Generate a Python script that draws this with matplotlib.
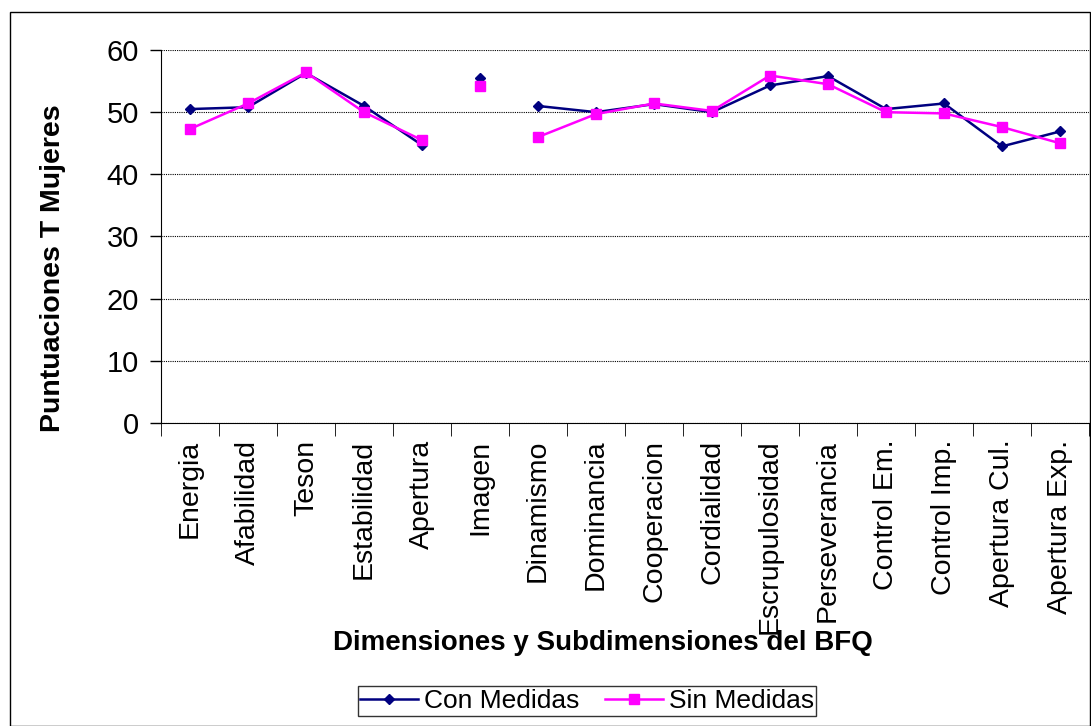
import numpy as np
import matplotlib.pyplot as plt
from matplotlib.patches import Rectangle

plt.rcParams['font.family'] = ['Liberation Sans', 'DejaVu Sans']

categorias = ["Energia", "Afabilidad", "Teson", "Estabilidad", "Apertura", "Imagen",
              "Dinamismo", "Dominancia", "Cooperacion", "Cordialidad", "Escrupulosidad",
              "Perseverancia", "Control Em.", "Control Imp.", "Apertura Cul.", "Apertura Exp."]
con_medidas = [50.5, 50.8, 56.3, 51.0, 44.7, 55.5, 51.0, 50.0, 51.3, 50.0, 54.3, 55.8,
               50.5, 51.4, 44.5, 46.9]
sin_medidas = [47.3, 51.4, 56.4, 50.0, 45.5, 54.2, 46.0, 49.7, 51.4, 50.2, 55.9, 54.5,
               50.0, 49.8, 47.6, 45.0]

fig = plt.figure(figsize=(10.91, 7.26), dpi=100)
ax = fig.add_axes([0.1476, 0.4174, 0.8506, 0.5137])

x = np.arange(len(categorias))
# Imagen (index 5) no se une con las demas
grupos = [slice(0, 5), slice(5, 6), slice(6, 16)]
for vals, col, mk, ms, lab in [(con_medidas, '#000080', 'D', 5, 'Con Medidas'),
                               (sin_medidas, '#FF00FF', 's', 7, 'Sin Medidas')]:
    v = np.array(vals)
    for i, g in enumerate(grupos):
        ax.plot(x[g], v[g], color=col, marker=mk, markersize=ms, lw=1.8,
                label=lab if i == 0 else None)

ax.set_xlim(-0.5, len(categorias) - 0.5)
ax.set_ylim(0, 60)
ax.set_yticks(range(0, 61, 10))
ax.tick_params(axis='y', labelsize=21, direction='out', length=8, width=1, pad=8)
ax.set_xticks(x)
ax.set_xticklabels(categorias, rotation=90, fontsize=20.5)
ax.tick_params(axis='x', which='major', length=0, pad=12)
ax.set_xticks(np.arange(-0.5, len(categorias), 1), minor=True)
ax.tick_params(axis='x', which='minor', length=9, direction='out')
ax.yaxis.grid(True, color='black', linestyle=(0, (1, 1)), lw=0.8)
ax.set_axisbelow(True)
for s in ['top', 'right']:
    ax.spines[s].set_visible(False)

fig.text(53 / 1091, 1 - 268 / 726, "Puntuaciones T Mujeres", fontsize=20.5,
         fontweight='bold', rotation=90, ha='center', va='center')
fig.text(0.553, 0.114, "Dimensiones y Subdimensiones del BFQ", fontsize=20,
         fontweight='bold', ha='center', va='center')

fig.legend(loc='center', bbox_to_anchor=(0.538, 0.0345), ncol=2, fontsize=19,
           frameon=True, fancybox=False, edgecolor='black', handlelength=2.2,
           borderpad=0.1, columnspacing=1.0, handletextpad=0.2)

fig.patches.append(Rectangle((10 / 1091, 0.0), 1080 / 1091, 1 - 12 / 726,
                             transform=fig.transFigure, fill=False, edgecolor='black', lw=1))

fig.savefig("out.png", dpi=100)
